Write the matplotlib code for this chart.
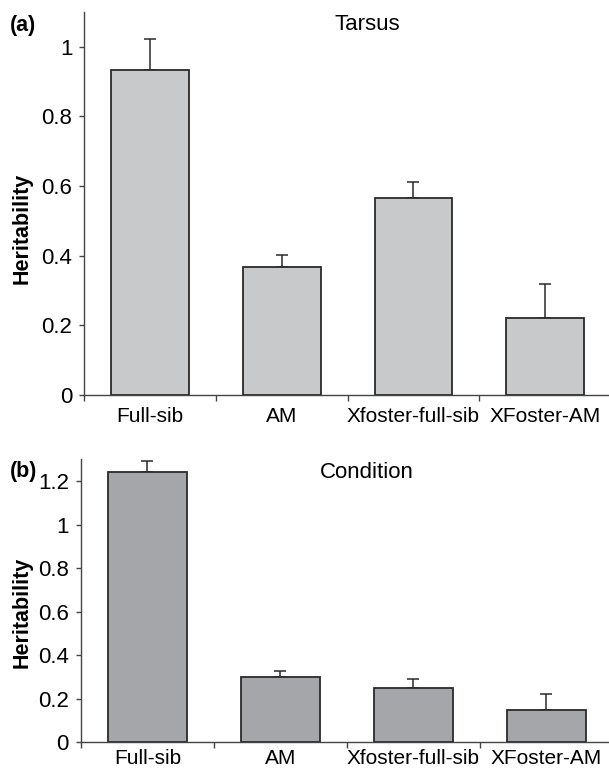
import matplotlib
matplotlib.use("Agg")
import matplotlib.pyplot as plt
import numpy as np

plt.rcParams['font.family'] = ['Liberation Sans', 'DejaVu Sans']

categories = ["Full-sib", "AM", "Xfoster-full-sib", "XFoster-AM"]
tarsus_vals = [0.933, 0.366, 0.564, 0.220]
tarsus_err = [0.089, 0.035, 0.047, 0.098]
cond_vals = [1.242, 0.298, 0.249, 0.148]
cond_err = [0.050, 0.029, 0.043, 0.072]

fig = plt.figure(figsize=(6.09, 7.75), dpi=100)

W, H = 609, 775
def ax_rect(l, r, b, t):
    return [l / W, 1 - b / H, (r - l) / W, (b - t) / H]

panels = [
    dict(rect=ax_rect(84.3, 611, 395.0, 11.7), vals=tarsus_vals, err=tarsus_err,
         color="#c8c9cb", ylim=1.1, yticks=[0, 0.2, 0.4, 0.6, 0.8, 1.0],
         title="Tarsus", tag="(a)", title_y=25, tag_y=26, ylab_y=228, xpad=9),
    dict(rect=ax_rect(80.8, 613, 742.3, 459.3), vals=cond_vals, err=cond_err,
         color="#a5a6aa", ylim=1.3, yticks=[0, 0.2, 0.4, 0.6, 0.8, 1.0, 1.2],
         title="Condition", tag="(b)", title_y=472, tag_y=472, ylab_y=612, xpad=5),
]

x = np.arange(len(categories))
for p in panels:
    ax = fig.add_axes(p["rect"])
    ax.bar(x, p["vals"], width=0.59, color=p["color"], edgecolor="#2a2a2a",
           linewidth=1.3, zorder=2)
    ax.errorbar(x, p["vals"], yerr=[np.zeros(len(x)), p["err"]], fmt="none",
                ecolor="#2a2a2a", elinewidth=1.1, capsize=4, capthick=1.1, zorder=1)
    ax.set_xlim(-0.5, 3.5)
    ax.set_ylim(0, p["ylim"])
    ax.set_yticks(p["yticks"])
    ax.set_yticklabels([("%g" % v) for v in p["yticks"]])
    ax.set_xticks(x)
    ax.set_xticklabels(categories)
    ax.set_xticks([-0.5, 0.5, 1.5, 2.5], minor=True)
    ax.tick_params(axis="x", which="major", length=0, labelsize=15, pad=p["xpad"])
    ax.tick_params(axis="x", which="minor", length=4, width=1, color="#444444", direction="out")
    ax.tick_params(axis="y", length=3.5, width=1, color="#444444", labelsize=16, pad=5)
    for s in ["top", "right"]:
        ax.spines[s].set_visible(False)
    for s in ["left", "bottom"]:
        ax.spines[s].set_color("#444444")
        ax.spines[s].set_linewidth(1)
    fig.text(10 / W, 1 - p["tag_y"] / H, p["tag"], fontsize=15.5, fontweight="bold",
             ha="left", va="center")
    fig.text(367 / W, 1 - p["title_y"] / H, p["title"], fontsize=16,
             ha="center", va="center")
    fig.text(22 / W, 1 - p["ylab_y"] / H, "Heritability", fontsize=15.5, fontweight="bold",
             rotation=90, ha="center", va="center")

fig.savefig("out.png", dpi=100)
